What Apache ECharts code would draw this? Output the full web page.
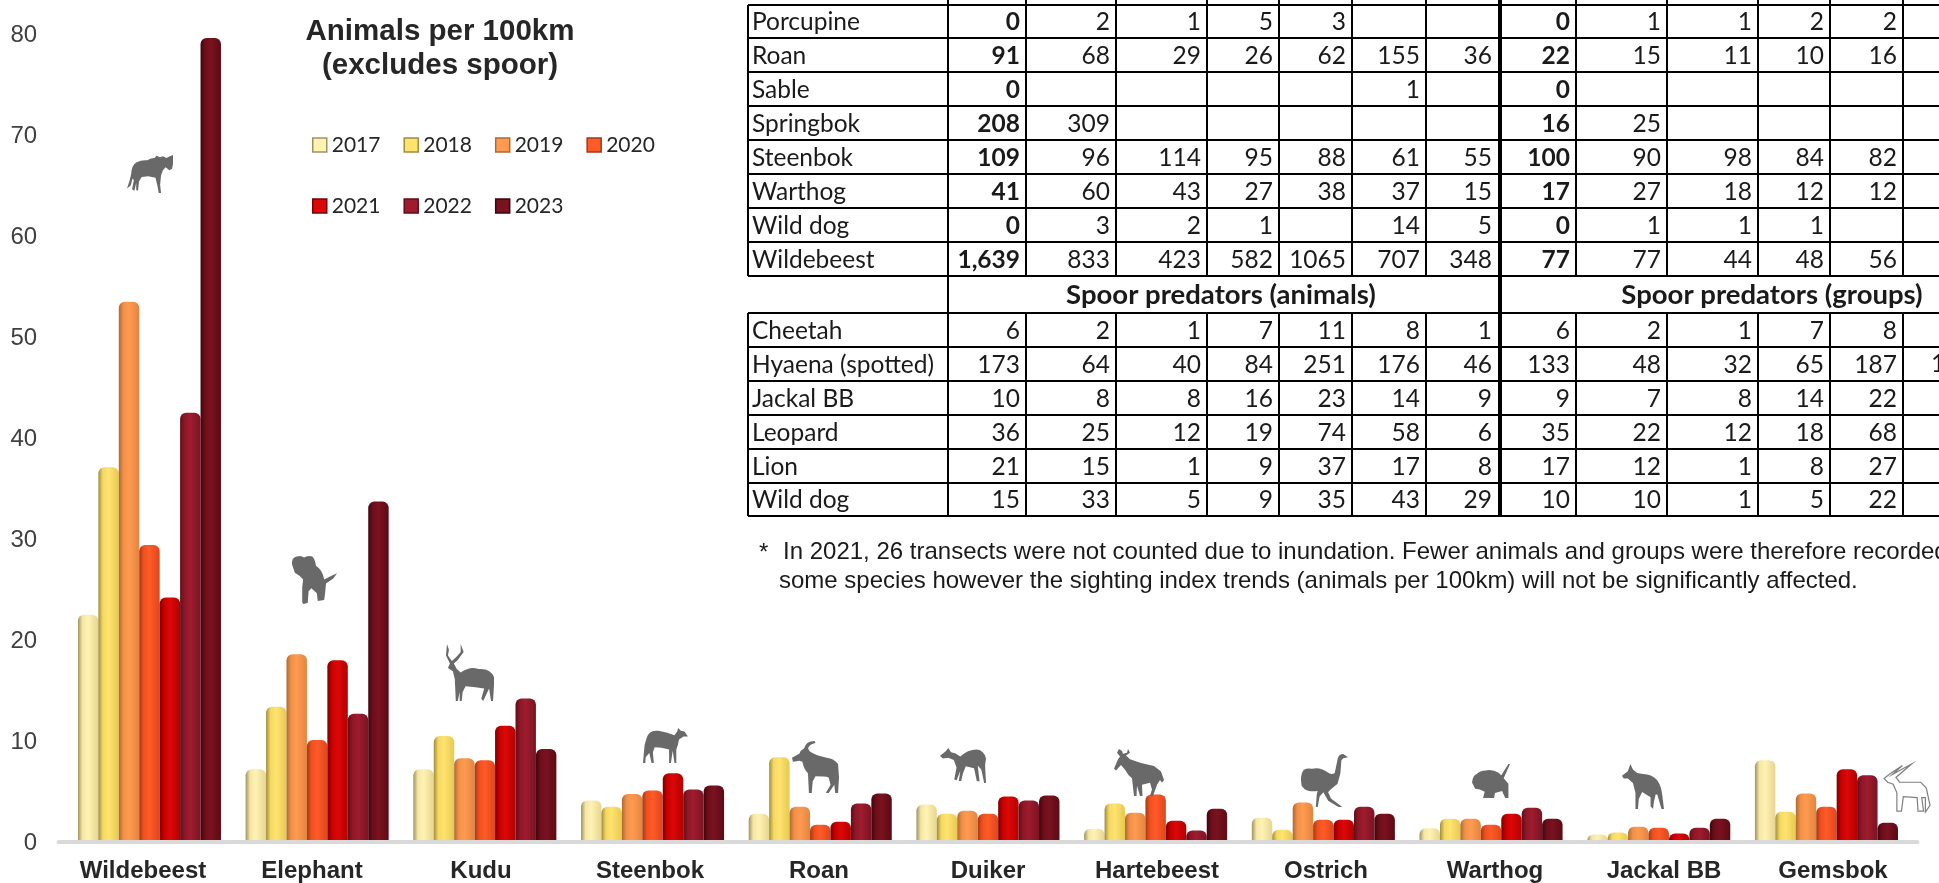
<!DOCTYPE html>
<html>
<head>
<meta charset="utf-8">
<title>Animals per 100km</title>
<script src="https://cdn.jsdelivr.net/npm/echarts@6/dist/echarts.min.js"></script>
<style>
	html, body { margin: 0; padding: 0; background: #fff; overflow: hidden; }
	#main { width: 1939px; height: 883px; }
</style>
</head>
<body>
<div id="main"></div>
<script>
//柱状图数据
var categories = ['Wildebeest', 'Elephant', 'Kudu', 'Steenbok', 'Roan', 'Duiker', 'Hartebeest', 'Ostrich', 'Warthog', 'Jackal BB', 'Gemsbok'];
var years = ['2017', '2018', '2019', '2020', '2021', '2022', '2023'];
var y2017 = [22.6, 7.3, 7.3, 4.2, 2.9, 3.8, 1.4, 2.5, 1.45, 0.85, 8.2];
var y2018 = [37.2, 13.5, 10.6, 3.6, 8.5, 2.9, 3.9, 1.3, 2.4, 1.05, 3.1];
var y2019 = [53.6, 18.7, 8.4, 4.85, 3.6, 3.2, 3.0, 4.0, 2.4, 1.6, 4.9];
var y2020 = [29.5, 10.2, 8.2, 5.2, 1.8, 2.9, 4.8, 2.3, 1.8, 1.5, 3.6];
var y2021 = [24.3, 18.1, 11.6, 6.9, 2.1, 4.6, 2.2, 2.3, 2.9, 0.95, 7.3];
var y2022 = [42.6, 12.8, 14.3, 5.3, 3.9, 4.2, 1.25, 3.6, 3.5, 1.5, 6.7];
var y2023 = [79.7, 33.8, 9.3, 5.7, 4.9, 4.7, 3.4, 2.9, 2.4, 2.4, 2.0];
var yearValues = [y2017, y2018, y2019, y2020, y2021, y2022, y2023];

//表格数据
var upperLabels = ['Porcupine', 'Roan', 'Sable', 'Springbok', 'Steenbok', 'Warthog', 'Wild dog', 'Wildebeest'];
var upperRows = [
	['0', '2', '1', '5', '3', '', '', '0', '1', '1', '2', '2'],
	['91', '68', '29', '26', '62', '155', '36', '22', '15', '11', '10', '16'],
	['0', '', '', '', '', '1', '', '0', '', '', '', ''],
	['208', '309', '', '', '', '', '', '16', '25', '', '', ''],
	['109', '96', '114', '95', '88', '61', '55', '100', '90', '98', '84', '82'],
	['41', '60', '43', '27', '38', '37', '15', '17', '27', '18', '12', '12'],
	['0', '3', '2', '1', '', '14', '5', '0', '1', '1', '1', ''],
	['1,639', '833', '423', '582', '1065', '707', '348', '77', '77', '44', '48', '56']
];
var lowerLabels = ['Cheetah', 'Hyaena (spotted)', 'Jackal BB', 'Leopard', 'Lion', 'Wild dog'];
var lowerRows = [
	['6', '2', '1', '7', '11', '8', '1', '6', '2', '1', '7', '8'],
	['173', '64', '40', '84', '251', '176', '46', '133', '48', '32', '65', '187'],
	['10', '8', '8', '16', '23', '14', '9', '9', '7', '8', '14', '22'],
	['36', '25', '12', '19', '74', '58', '6', '35', '22', '12', '18', '68'],
	['21', '15', '1', '9', '37', '17', '8', '17', '12', '1', '8', '27'],
	['15', '33', '5', '9', '35', '43', '29', '10', '10', '1', '5', '22']
];
var noteLines = [
	'In 2021, 26 transects were not counted due to inundation. Fewer animals and groups were therefore recorded for',
	'some species however the sighting index trends (animals per 100km) will not be significantly affected.'
];

//柱子颜色: 左边缘, 亮部, 中间, 右边缘
var barColors = [
	['#9E9264', '#F5E6A5', '#FFF2B3', '#E6D592'],
	['#A08D3F', '#F4D862', '#FFE36F', '#E6C952'],
	['#AD6A30', '#F08F48', '#FF9B50', '#E28540'],
	['#A23A14', '#F0501F', '#FF5A28', '#DE471C'],
	['#7A0000', '#C80000', '#DC0808', '#B40000'],
	['#5E0E18', '#8E1728', '#9E1C2E', '#7C1322'],
	['#3C060E', '#6E0E1A', '#7A1220', '#5C0A14']
];

//动物剪影 [x, y, 宽, 高, path]
var silhouettes = [
	[127, 155, 46, 38, 'M0 88 Q6 70 9 50 Q10 28 20 20 Q32 12 44 14 Q52 8 60 8 L64 2 L72 6 L78 3 L86 8 L92 4 L100 0 L100 24 L98 36 L92 40 L84 32 L78 40 L74 54 L72 78 L74 100 L69 100 L66 80 L62 60 L46 56 L32 58 L26 70 L24 94 L20 92 L20 74 L16 94 L11 90 L15 66 L12 62 L8 80 Z'],
	[292, 556, 45, 48, 'M2 20 Q0 5 12 3 Q22 0 28 5 Q36 0 46 3 Q52 8 54 22 Q68 30 72 50 L88 42 L100 37 L92 48 L76 58 L74 78 L72 92 L58 94 L56 78 L44 68 L38 74 L36 98 L26 100 L24 96 L24 66 L26 50 L18 42 L8 36 Z'],
	[446, 644, 48, 57, 'M2 0 L6 10 L4 20 L12 30 L22 22 L30 14 L30 0 L36 14 L24 28 L16 34 L22 44 L30 50 Q50 38 66 44 Q90 42 98 58 L98 72 L96 100 L92 100 L88 78 L76 100 L72 96 L78 78 L60 76 L40 74 L34 84 L32 100 L28 100 L28 84 L24 100 L20 100 L18 62 L14 48 L4 42 L8 34 L0 20 Z'],
	[643, 728, 45, 35, 'M0 100 L2 70 Q2 50 8 30 Q14 6 34 10 Q52 14 70 22 L76 12 L78 2 L84 10 L92 12 L100 26 L90 26 L80 34 Q78 50 74 62 L74 100 L70 100 L66 66 L62 100 L58 100 L58 62 Q40 56 26 56 L22 70 L24 100 L19 100 L14 72 L6 84 L5 100 Z'],
	[792, 741, 47, 52, 'M48 0 Q30 0 26 14 Q18 18 16 24 L0 32 L2 40 L16 38 L22 40 Q26 56 34 62 L36 100 L42 100 L44 78 L50 68 Q70 68 78 70 L82 84 L72 100 L78 100 L90 84 L92 100 L98 100 L100 70 L98 44 Q90 34 74 32 Q52 28 38 20 L34 14 Q38 6 50 4 Z'],
	[940, 748, 46, 35, 'M0 22 L12 10 L18 0 L24 12 L34 16 L44 24 Q60 4 80 4 Q96 6 100 30 L98 50 L100 100 L96 100 L90 62 L82 50 L86 96 L80 94 L74 58 L56 52 L50 72 L46 94 L41 94 L44 66 L36 92 L31 90 L36 56 L30 34 L18 28 L6 30 Z'],
	[1114, 749, 50, 47, 'M10 0 L6 8 L12 16 L8 22 L0 42 L4 46 L14 34 L22 44 Q28 56 36 62 L40 100 L45 100 L46 78 L52 100 L57 100 L56 76 L72 72 L76 86 L72 100 L78 100 L86 76 L92 66 L96 72 L100 66 L94 48 L80 36 L54 30 L32 22 L24 14 L32 8 L28 0 L26 8 L18 10 L16 4 Z'],
	[1301, 754, 47, 53, 'M2 60 Q-2 40 6 30 Q14 26 24 28 Q40 24 56 34 Q64 40 72 36 L78 10 Q80 0 90 0 L100 6 L90 8 L86 12 L84 36 L78 56 L62 68 L58 72 L64 84 L88 100 L80 100 L58 88 L48 72 L40 80 L36 100 L32 100 L34 76 L36 70 Q16 72 8 66 Z'],
	[1472, 764, 38, 34, 'M0 52 Q2 32 12 28 Q20 18 34 18 Q52 14 66 24 L74 32 L92 0 L96 0 L80 40 L92 56 L92 96 L84 96 L76 76 L58 82 L56 96 L28 96 L32 78 L20 72 L8 70 Z'],
	[1622, 764, 42, 45, 'M0 26 L14 16 L20 0 L26 12 L36 20 L50 22 Q70 22 84 36 Q94 50 96 70 L100 100 L94 100 L84 68 L80 68 L76 84 L74 100 L68 94 L68 74 L48 62 L40 78 L38 100 L32 100 L32 64 L26 42 L14 32 L4 32 Z'],
	[1884, 764, 46, 48, 'M0 30 L14 20 L40 3 L18 22 L60 0 L26 28 L34 38 L80 38 L92 50 L100 86 L90 100 L90 70 L82 70 L86 98 L74 98 L72 70 L42 68 L38 98 L28 98 L28 60 L20 42 L8 38 Z']
];

//表格线位置
var colX = [948, 1026, 1116, 1207, 1279, 1352, 1426, 1500, 1576, 1667, 1758, 1830, 1903, 1975];
var rowY = [5, 38, 72, 106, 140, 174, 208, 242, 276, 313, 347, 381, 415, 449, 483, 516];
var tableLeft = 748;
var cellFont = '24.5px Lato';
var cellBold = 'bold 24.5px Lato';
var headFont = 'bold 27.5px Lato';
var noteFont = '24px "Liberation Sans"';
var textColor = '#1a1a1a';

function line(x1, y1, x2, y2, width) {
	return {
		type: 'line',
		silent: true,
		z: 10,
		shape: { x1: x1, y1: y1, x2: x2, y2: y2 },
		style: { stroke: '#000', lineWidth: width || 2 }
	};
}

function label(text, x, y, font, align, color) {
	return {
		type: 'text',
		silent: true,
		z: 11,
		x: x,
		y: y,
		style: {
			text: text,
			font: font,
			fill: color || textColor,
			textAlign: align || 'left',
			textVerticalAlign: 'middle'
		}
	};
}

function tableElements() {
	var els = [];
	var i, j;

	//横线
	for (i = 0; i < rowY.length; i++) {
		els.push(line(tableLeft, rowY[i], 1939, rowY[i]));
	}
	//顶部短竖线
	for (j = 0; j < colX.length - 1; j++) {
		if (j != 7) els.push(line(colX[j], 0, colX[j], 5));
	}
	//左边框
	els.push(line(tableLeft, 5, tableLeft, 276));
	els.push(line(tableLeft, 313, tableLeft, 516));
	els.push(line(colX[0], 0, colX[0], 516));
	//粗分隔线
	els.push(line(colX[7], 0, colX[7], 516, 4));
	//内部竖线 (标题行除外)
	for (j = 1; j < colX.length; j++) {
		if (j == 7) continue;
		els.push(line(colX[j], 5, colX[j], 276));
		els.push(line(colX[j], 313, colX[j], 516));
	}

	function cells(labels, rows, startRow, bold) {
		labels.forEach(function(name, r) {
			var cy = (rowY[startRow + r] + rowY[startRow + r + 1]) / 2 + 1;
			els.push(label(name, 752, cy, cellFont));
			rows[r].forEach(function(v, c) {
				if (v === '') return;
				var isBold = bold && (c == 0 || c == 7);
				var right = colX[c + 1] - (c == 6 ? 8 : 6);
				els.push(label(v, right, cy, isBold ? cellBold : cellFont, 'right'));
			});
		});
	}
	cells(upperLabels, upperRows, 0, true);
	cells(lowerLabels, lowerRows, 9, false);

	//被裁切的下一列
	els.push(label('1', 1931, 364, cellFont));

	els.push(label('Spoor predators (animals)', 1221, 295, headFont, 'center'));
	els.push(label('Spoor predators (groups)', 1772, 295, headFont, 'center'));

	els.push(label('*', 759, 553, noteFont));
	els.push(label(noteLines[0], 783, 552, noteFont));
	els.push(label(noteLines[1], 779, 581, noteFont));

	return els;
}

function barGradient(c) {
	return new echarts.graphic.LinearGradient(0, 0, 1, 0, [
		{ offset: 0, color: c[0] },
		{ offset: 0.22, color: c[1] },
		{ offset: 0.5, color: c[2] },
		{ offset: 1, color: c[3] }
	]);
}

function legendData(from, to) {
	var list = [];
	for (var i = from; i < to; i++) {
		list.push({
			name: years[i],
			icon: 'rect',
			itemStyle: { color: barColors[i][2], borderColor: barColors[i][0], borderWidth: 1.5 }
		});
	}
	return list;
}

var legendStyle = {
	itemWidth: 14,
	itemHeight: 14,
	itemGap: 23,
	textStyle: { fontFamily: 'Lato', fontSize: 21, color: '#262626' },
	selectedMode: false
};

var barSeries = years.map(function(year, i) {
	return {
		name: year,
		type: 'bar',
		xAxisIndex: 0,
		yAxisIndex: 0,
		data: yearValues[i],
		barGap: 0,
		barCategoryGap: '14.7%',
		itemStyle: {
			color: barGradient(barColors[i]),
			borderRadius: [6, 6, 1, 1]
		}
	};
});

//动物剪影
var animalSeries = {
	type: 'custom',
	coordinateSystem: 'none',
	silent: true,
	z: 4,
	data: categories,
	renderItem: function(params) {
		var a = silhouettes[params.dataIndex];
		var isOutline = params.dataIndex == 10;
		return {
			type: 'path',
			shape: { pathData: a[4], layout: 'cover', x: a[0], y: a[1], width: a[2], height: a[3] },
			style: isOutline ? { fill: '#fff', stroke: '#808080', lineWidth: 1.2 } : { fill: '#696969' }
		};
	}
};

var option = {
	animation: false,
	backgroundColor: '#fff',
	title: {
		text: 'Animals per 100km\n(excludes spoor)',
		left: 435,
		top: 10,
		textAlign: 'center',
		textStyle: {
			fontFamily: 'Liberation Sans',
			fontWeight: 'bold',
			fontSize: 29.5,
			lineHeight: 34,
			color: '#262626'
		}
	},
	legend: [
		Object.assign({ left: 307, top: 129.5, data: legendData(0, 4) }, legendStyle),
		Object.assign({ left: 307, top: 190.5, data: legendData(4, 7) }, legendStyle)
	],
	//柱子和类目标签的间距不同, 分成两个 grid
	grid: [
		{ left: 65.6, width: 1844.7, top: 35, bottom: 40 },
		{ left: 58.5, width: 1859, top: 35, bottom: 40 }
	],
	xAxis: [
		{
			type: 'category',
			gridIndex: 0,
			data: categories,
			axisTick: { show: false },
			axisLine: { show: false },
			axisLabel: { show: false }
		},
		{
			type: 'category',
			gridIndex: 1,
			data: categories,
			z: 3,
			axisTick: { show: false },
			axisLine: { lineStyle: { color: '#D9D9D9', width: 4 } },
			axisLabel: {
				interval: 0,
				margin: 17,
				fontFamily: 'Liberation Sans',
				fontWeight: 'bold',
				fontSize: 24,
				color: '#262626'
			}
		}
	],
	yAxis: [
		{
			type: 'value',
			gridIndex: 0,
			min: 0,
			max: 80,
			interval: 10,
			axisLine: { show: false },
			axisTick: { show: false },
			splitLine: { show: false },
			axisLabel: {
				margin: 28.5,
				padding: [5, 0, 0, 0],
				fontFamily: 'Liberation Sans',
				fontSize: 24,
				color: '#404040'
			}
		},
		{
			type: 'value',
			gridIndex: 1,
			min: 0,
			max: 80,
			interval: 10,
			show: false
		}
	],
	series: barSeries.concat([animalSeries]),
	graphic: {
		elements: [{
			//柱底与坐标轴之间的白缝
			type: 'rect',
			silent: true,
			z: 3,
			shape: { x: 58, y: 840, width: 1860, height: 1 },
			style: { fill: '#fff' }
		}].concat(tableElements())
	}
};

var chart = echarts.init(document.getElementById('main'));
chart.setOption(option);
</script>
</body>
</html>
